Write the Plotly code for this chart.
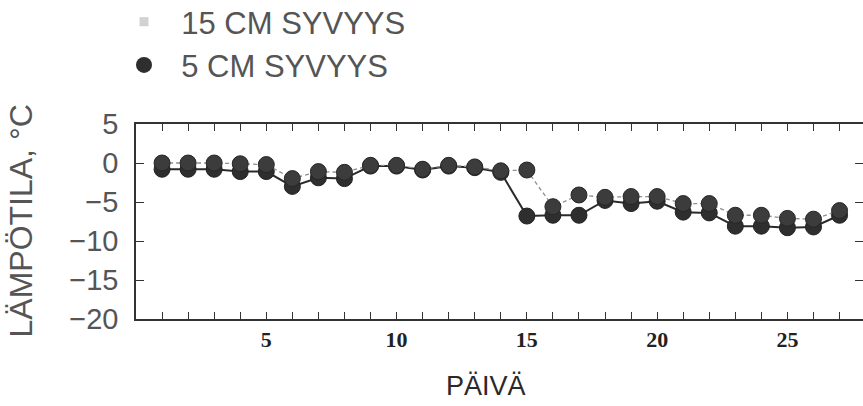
import plotly.graph_objects as go

days = list(range(1, 28))
depth15 = [0.0, 0.0, 0.0, -0.1, -0.2, -2.0, -1.1, -1.2, -0.3, -0.3, -0.8, -0.3, -0.5, -1.0,
           -0.9, -5.6, -4.1, -4.4, -4.3, -4.3, -5.2, -5.2, -6.7, -6.7, -7.1, -7.2, -6.1]
depth5 = [-0.8, -0.8, -0.8, -1.1, -1.1, -3.0, -1.9, -2.0, -0.4, -0.4, -0.9, -0.4, -0.6, -1.2,
          -6.8, -6.7, -6.7, -4.8, -5.2, -4.9, -6.3, -6.4, -8.1, -8.1, -8.3, -8.2, -6.7]
x_tick_vals = days
x_tick_text = ["5" if d == 5 else "10" if d == 10 else "15" if d == 15 else
               "20" if d == 20 else "25" if d == 25 else "" for d in days]
series_names = ["15 CM SYVYYS", "5 CM SYVYYS"]

W, H = 863, 406
ML, MR, MT, MB = 136, 0, 124, 87
pw = W - ML - MR
ph = H - MT - MB

fig = go.Figure()

fig.add_trace(go.Scatter(
    x=days, y=depth5, mode="lines+markers", showlegend=False,
    line=dict(color="#2a2a2a", width=2),
    marker=dict(size=16, color="#2e2e2e", line=dict(color="#222", width=1)),
))
fig.add_trace(go.Scatter(
    x=days, y=depth15, mode="lines+markers", showlegend=False,
    line=dict(color="#8f8f8f", width=1.3, dash="4px,3px"),
    marker=dict(size=16, color="#3c3c3c", line=dict(color="#262626", width=1)),
))

# legend-only entries
fig.add_trace(go.Scatter(
    x=[None], y=[None], mode="markers", name="\u00a0\u00a0" + series_names[0],
    legendgroup="a",
    marker=dict(size=9, color="#d2d2d2", symbol="square"),
))
fig.add_trace(go.Scatter(
    x=[None], y=[None], mode="markers", name="\u00a0\u00a0" + series_names[1],
    legendgroup="b",
    marker=dict(size=16, color="#2e2e2e"),
))

sans = "Liberation Sans, Arial, sans-serif"

fig.update_layout(
    width=W, height=H, autosize=False,
    margin=dict(l=ML, r=MR, t=MT, b=MB, pad=0, autoexpand=False),
    paper_bgcolor="white", plot_bgcolor="white",
    showlegend=True,
    legend=dict(
        xref="paper", yref="paper",
        x=(124 - ML) / pw, y=1 + (MT + 5) / ph, xanchor="left", yanchor="top",
        font=dict(family=sans, size=31, color="#555"),
        bgcolor="rgba(0,0,0,0)", itemsizing="trace",
        tracegroupgap=9, traceorder="normal",
    ),
    xaxis=dict(
        range=[0, 27.9], tickvals=x_tick_vals, ticktext=x_tick_text,
        ticks="inside", ticklen=7, tickwidth=1.3, tickcolor="#333",
        showline=True, linecolor="#333", linewidth=1.5, mirror="allticks",
        showgrid=False, zeroline=False,
        tickfont=dict(family="Liberation Serif, Times New Roman, serif", size=22,
                      color="#222", weight="bold"),
        ticklabelstandoff=0,
    ),
    yaxis=dict(
        range=[-20, 5], dtick=5, tick0=0,
        ticks="inside", ticklen=8, tickwidth=1.3, tickcolor="#333",
        showline=True, linecolor="#333", linewidth=1.5, mirror="allticks",
        showgrid=False, zeroline=False,
        tickfont=dict(family=sans, size=29, color="#555"),
        ticklabelstandoff=10,
    ),
    annotations=[
        dict(text="LÄMPÖTILA, °C", textangle=-90, xref="paper", yref="paper",
             x=(20 - ML) / pw, y=0.5, xanchor="center", yanchor="middle",
             showarrow=False, font=dict(family=sans, size=32, color="#555")),
        dict(text="PÄIVÄ", xref="paper", yref="paper",
             x=(486 - ML) / pw, y=-(386 - (MT + ph)) / ph, xanchor="center", yanchor="middle",
             showarrow=False, font=dict(family=sans, size=27, color="#2a2a2a")),
    ],
)

fig.write_html("out.html")
